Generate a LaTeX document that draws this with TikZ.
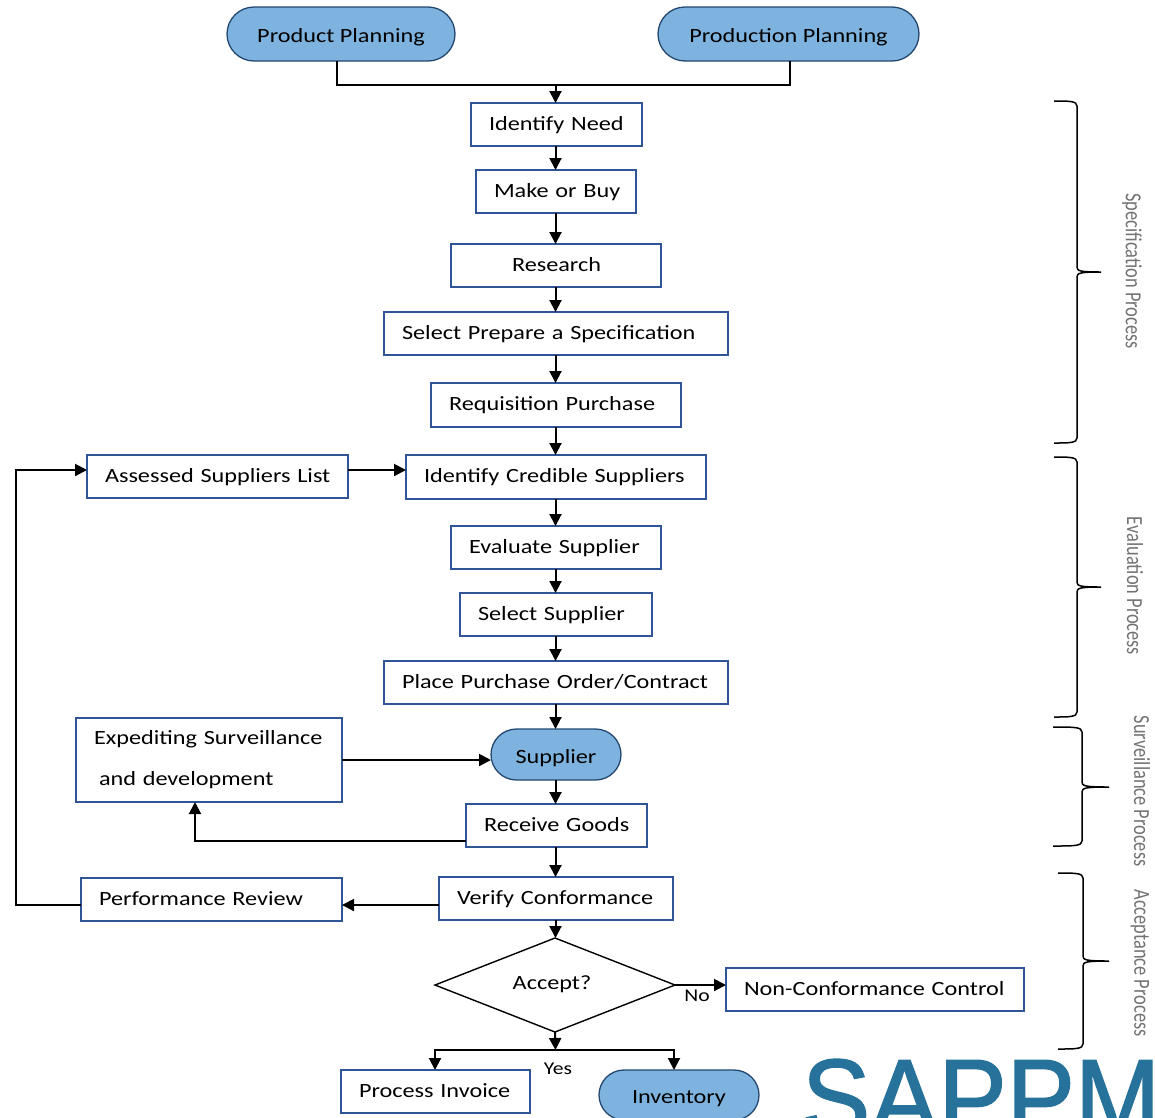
\documentclass[tikz,border=0pt]{standalone}
\usepackage{fontspec}
\setmainfont{Carlito}[FakeStretch=1.2]
\newfontfamily\bracefont{Carlito}[FakeStretch=0.8]
\newfontfamily\logofont{Liberation Sans}[FakeBold=1.5]
\usetikzlibrary{shapes.geometric,shapes.misc,arrows.meta}
\definecolor{boxblue}{HTML}{2F5597}
\definecolor{capfill}{HTML}{7DB3DE}
\definecolor{capline}{HTML}{24476F}
\definecolor{logoblue}{HTML}{27729B}
\tikzset{
  every node/.style={font=\fontsize{20.2}{24}\selectfont,text=black,outer sep=0pt},
  boxnode/.style={draw=boxblue,line width=1.4pt,fill=white,align=left,inner xsep=18pt,inner ysep=0pt,text height=14pt,text depth=3pt},
  capnode/.style={rounded rectangle,draw=capline,line width=1.3pt,fill=capfill,inner sep=0pt,text height=20pt,text depth=3pt},
  decnode/.style={diamond,draw=black,line width=1.4pt,fill=white,inner sep=0pt},
  conn/.style={draw=black,line width=2pt},
  arr/.style={conn,-{Stealth[length=12pt,width=12pt,inset=0pt]}},
  bracecurve/.style={draw=black,line width=1.5pt},
  sidelabel/.style={rotate=-90,text=black!55,inner sep=0pt,font=\fontsize{23}{26}\bracefont},
  small/.style={font=\fontsize{18}{22}\selectfont,inner sep=0pt}
}
\newcommand\bx[6]{\node[boxnode,text width={#4pt-#2pt-36pt},minimum height={#5pt-#3pt}] (#1) at ({(#2+#4)/2},{(#3+#5)/2}) {\mbox{#6}};}
\newcommand\cp[6]{\node[capnode,minimum width={#4pt-#2pt},minimum height={#5pt-#3pt}] (#1) at ({(#2+#4)/2},{(#3+#5)/2}) {#6};}
\newcommand\brc[6]{\draw[bracecurve] (#1,#3) .. controls (#2-8,#3) and (#2,#3) .. (#2,#3+5) -- (#2,#4-5) .. controls (#2,#4-1) and (#2+3,#4) .. (#6,#4) .. controls (#2+3,#4) and (#2,#4+1) .. (#2,#4+5) -- (#2,#5-5) .. controls (#2,#5) and (#2-8,#5) .. (#1,#5);}
\begin{document}
\begin{tikzpicture}[x=1pt,y=-1pt]
\useasboundingbox (0,0) rectangle (1155,1117);
\clip (0,0) rectangle (1155,1117);
\fill[white] (0,0) rectangle (1155,1117);
\coordinate (spine) at (555.5,0);
\cp{pp}{227}{7}{455}{61}{Product Planning}
\cp{prp}{658}{7}{919}{61}{Production Planning}
\bx{need}{471}{103}{642}{146}{Identify Need}
\bx{mob}{476}{170}{636}{213}{Make or Buy}
\bx{res}{451}{244}{661}{287}{\hspace*{43pt}Research}
\bx{spec}{384}{312}{728}{355}{Select Prepare a Specification}
\bx{req}{431}{383}{681}{427}{Requisition Purchase}
\bx{ics}{406}{455}{706}{499}{Identify Credible Suppliers}
\bx{evs}{451}{526}{661}{569}{Evaluate Supplier}
\bx{sel}{460}{593}{652}{636}{Select Supplier}
\bx{ppo}{384}{661}{728}{704}{Place Purchase Order/Contract}
\cp{sup}{491}{729}{621}{780}{Supplier}
\bx{rec}{466}{804}{647}{847}{Receive Goods}
\bx{ver}{439}{877}{673}{920}{Verify Conformance}
\bx{asl}{87}{455}{348}{498}{Assessed Suppliers List}
\node[draw=boxblue,line width=1.4pt,fill=white,align=left,inner xsep=18pt,inner ysep=0pt,text width=230pt,minimum height=84pt,font=\fontsize{20.2}{41}\selectfont] (exp) at (209,760) {Expediting Surveillance\\\hspace*{5pt}and development};
\bx{per}{81}{878}{342}{921}{Performance Review}
\node[decnode,minimum width=240pt,minimum height=94pt] (acc) at (555,985) {\raisebox{4pt}{\hspace*{-6pt}Accept?}};
\bx{ncc}{726}{968}{1024}{1011}{Non-Conformance Control}
\bx{inv}{341}{1070}{530}{1113}{Process Invoice}
\cp{stock}{599}{1070}{759}{1120}{Inventory}
\coordinate (jointop) at (555.5,85);
\coordinate (joinbot) at (555.5,1050);
\coordinate (colpp) at (337,0);
\coordinate (colprp) at (790,0);
\coordinate (loopx) at (16,0);
\coordinate (loopa) at (0,470);
\coordinate (loopb) at (0,905);
\coordinate (recrow) at (0,841);
\coordinate (colexp) at (195,0);
\coordinate (colinv) at (435,0);
\coordinate (colstock) at (674,0);
\draw[conn] (pp.south -| colpp) |- (jointop) -| (prp.south -| colprp);
\draw[arr] (jointop) -- (need.north -| spine);
\foreach \a/\b in {need/mob,mob/res,res/spec,spec/req,req/ics,ics/evs,evs/sel,sel/ppo,ppo/sup,sup/rec,rec/ver,ver/acc}
  \draw[arr] (\a.south -| spine) -- (\b.north -| spine);
\draw[arr] (asl.east |- loopa) -- (ics.west |- loopa);
\draw[arr] (per.west |- loopb) -- (loopx |- loopb) -- (loopx |- loopa) -- (asl.west |- loopa);
\draw[arr] (exp.east) -- (exp.east -| sup.west);
\draw[arr] (rec.west |- recrow) -- (colexp |- recrow) -- (exp.south -| colexp);
\draw[arr] (ver.west |- loopb) -- (per.east |- loopb);
\draw[arr] (acc.east) -- (ncc.west |- acc.east);
\draw[arr] (acc.south) -- (joinbot);
\draw[arr] (joinbot) -- (joinbot -| colinv) -- (inv.north -| colinv);
\draw[arr] (joinbot) -- (joinbot -| colstock) -- (stock.north -| colstock);
\node[small] (nolab) at (697,996) {No};
\node[small] (yeslab) at (558,1069) {Yes};
\brc{1054}{1077}{101}{272}{443}{1101}
\brc{1054}{1077}{457}{587}{717}{1101}
\brc{1053}{1082}{727}{787}{846}{1109}
\brc{1058}{1083}{873}{961}{1049}{1109}
\node[sidelabel] (l1) at (1132,271) {Specification  Process};
\node[sidelabel] (l2) at (1135,586) {Evaluation Process};
\node[sidelabel] (l3) at (1142,791) {Surveillance Process};
\node[sidelabel] (l4) at (1140,963) {Acceptance  Process};
\node[anchor=base west,inner sep=0pt,text=logoblue,font=\fontsize{110}{110}\logofont] (logo) at (802,1136) {\scalebox{0.93}[1]{SAPPM}};
\end{tikzpicture}
\end{document}
